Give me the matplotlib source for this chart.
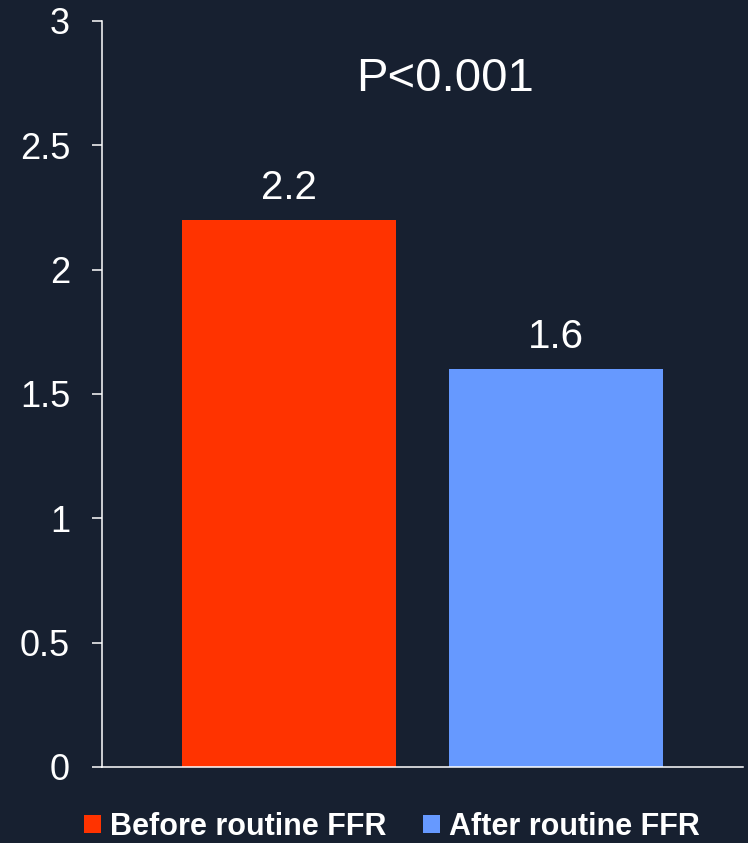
import matplotlib

matplotlib.use("Agg")
import matplotlib.pyplot as plt
from matplotlib.patches import Patch

# data
series = ["Before routine FFR", "After routine FFR"]
values = [2.2, 1.6]
colors = ["#FF3300", "#6699FF"]
y_ticks = [0, 0.5, 1, 1.5, 2, 2.5, 3]
y_tick_labels = ["0", "0.5", "1", "1.5", "2", "2.5", "3"]
p_text = "P<0.001"

BG = "#172030"
FG = "white"

plt.rcParams["font.family"] = ["Liberation Sans", "DejaVu Sans"]

fig = plt.figure(figsize=(7.48, 8.43), dpi=100, facecolor=BG)
ax = fig.add_axes([0.1364, 0.0902, 0.8569, 0.8849], facecolor=BG)

positions = list(range(len(values)))
bars = ax.bar(positions, values, width=0.8, color=colors, zorder=2)

for x, v in zip(positions, values):
    ax.annotate(f"{v:.1f}", (x, v), xytext=(0, 15), textcoords="offset points",
                ha="center", va="baseline", color=FG, fontsize=29)

ax.text(0.585, 2.72, p_text, ha="center", va="baseline", color=FG, fontsize=34)

ax.set_xlim(-0.7, 1.7)
ax.set_ylim(0, 3)
ax.set_yticks(y_ticks, labels=y_tick_labels)
ax.set_xticks([])
ax.tick_params(axis="y", colors=FG, labelsize=26, length=7, width=1.1,
               direction="out", pad=16)
for side in ("top", "right"):
    ax.spines[side].set_visible(False)
for side in ("left", "bottom"):
    ax.spines[side].set_color(FG)
    ax.spines[side].set_linewidth(1.1)

handles = [Patch(facecolor=c, edgecolor="none") for c in colors]
leg = fig.legend(handles, series, loc="center", bbox_to_anchor=(0.524, 0.019),
                 ncol=2, frameon=False, handlelength=0.55, handleheight=0.55,
                 handletextpad=0.3, columnspacing=1.2,
                 prop={"size": 22, "weight": "bold"})
for t in leg.get_texts():
    t.set_color(FG)

fig.savefig("out.png", facecolor=BG)
